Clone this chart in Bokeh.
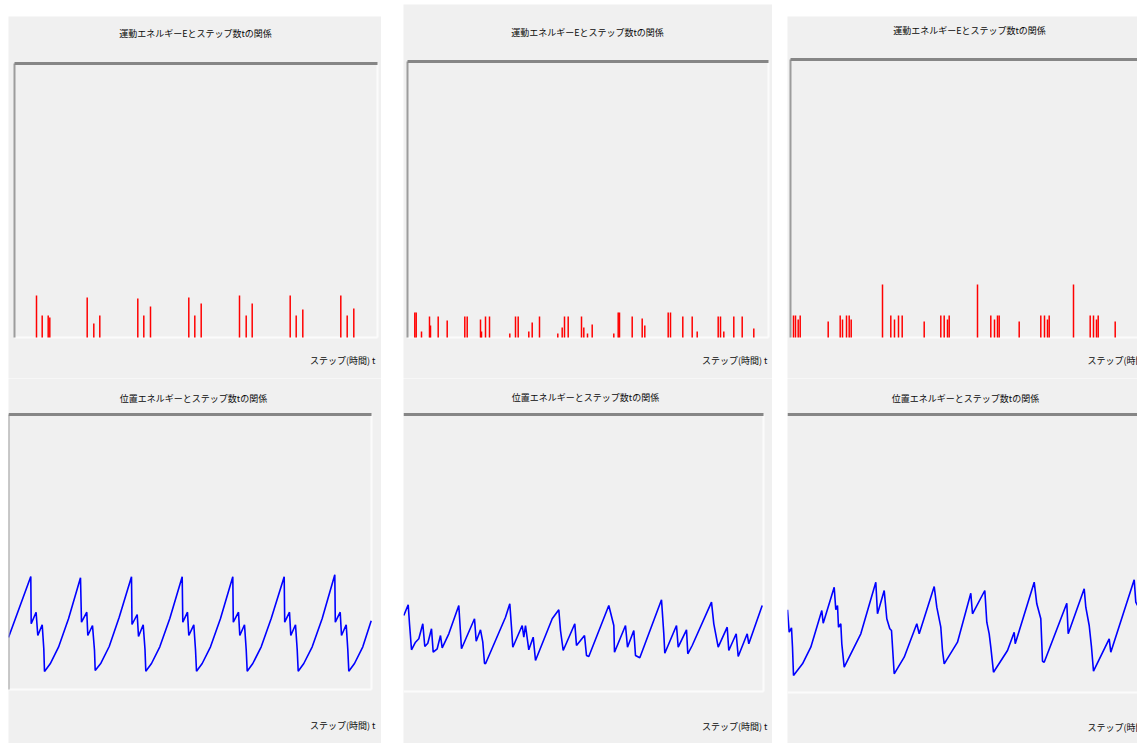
from bokeh.plotting import figure
from bokeh.layouts import row, column
from bokeh.models import Range1d, Label
from bokeh.embed import file_html
from bokeh.resources import INLINE

TITLE_KE = "運動エネルギーEとステップ数tの関係"
TITLE_PE = "位置エネルギーとステップ数tの関係"
X_LABEL = "ステップ(時間) t"

# ---- run A: regular bounce ----
ke_a_t = [22.0, 27.7, 33.7, 35.3, 72.7, 79.3, 85.3, 123.3, 129.3, 136.0,
          174.3, 180.3, 186.7, 225.0, 231.7, 237.7, 275.7, 281.7, 288.3,
          326.3, 332.7, 339.3]
ke_a_e = [42, 22, 22, 20, 40, 14, 22, 39, 22, 31,
          40, 22, 34, 42, 22, 34, 42, 22, 28,
          42, 22, 29]

pe_a_t = [0.0, 22.3,
          22.7, 27.6, 29.3, 33.7, 35.3, 36.0, 41.7, 50.0, 60.0, 72.0,
          73.0, 78.3, 79.3, 84.0, 86.0, 86.7, 92.4, 100.7, 110.7, 123.0,
          123.5, 128.7, 130.0, 134.7, 136.5, 137.3, 143.0, 151.3, 161.3, 173.7,
          174.3, 179.0, 180.3, 185.3, 187.0, 188.0, 193.7, 202.0, 212.0, 224.3,
          224.8, 230.0, 231.3, 236.0, 237.7, 238.7, 244.3, 252.7, 262.7, 275.7,
          276.2, 281.0, 282.3, 287.0, 288.7, 289.7, 295.3, 303.7, 313.7, 326.3,
          326.8, 331.7, 333.0, 337.7, 339.3, 340.3, 346.0, 354.3, 362.7]
pe_a_e = [52.0, 113.0,
          65.7, 77.3, 54.0, 64.7, 40.7, 18.0, 25.7, 42.3, 70.7, 111.7,
          67.3, 77.3, 54.0, 64.0, 39.0, 19.0, 26.3, 43.0, 72.3, 112.7,
          65.0, 75.0, 53.0, 64.7, 40.0, 18.3, 26.0, 42.7, 71.0, 112.7,
          67.3, 77.3, 54.0, 64.7, 40.0, 18.3, 26.0, 42.7, 71.0, 112.7,
          67.3, 77.3, 54.0, 64.7, 40.0, 18.3, 26.0, 42.7, 71.0, 112.7,
          67.3, 77.3, 54.0, 64.7, 40.0, 18.3, 26.0, 42.7, 71.0, 114.7,
          67.3, 77.3, 54.0, 64.7, 40.0, 18.3, 26.0, 42.7, 68.7]

# ---- run B: frequent small collisions ----
ke_b_t = [7.3, 8.7, 14.0, 22.0, 23.0, 30.7, 39.7, 57.3, 59.7, 73.0, 74.0,
          78.0, 82.0, 102.3, 108.0, 110.7, 121.3, 124.7, 132.0, 150.3, 154.7,
          157.0, 160.7, 174.0, 176.3, 180.0, 184.7, 206.3, 210.7, 212.0, 224.7,
          234.7, 237.3, 260.7, 263.0, 275.3, 284.7, 289.7, 310.7, 313.0, 316.3,
          326.3, 334.7, 346.3]
ke_b_e = [25, 25, 6, 21, 12, 21, 17, 21, 21, 18, 6,
          21, 21, 4, 21, 21, 6, 15, 21, 4, 10,
          21, 21, 21, 10, 4, 13, 4, 25, 25, 21,
          19, 12, 25, 25, 21, 21, 6, 21, 21, 6,
          21, 21, 9]

pe_b_t = [0.3, 4.7, 6.0, 8.0, 12.0, 15.3, 19.3, 21.3, 24.3, 28.0, 29.7, 33.7,
          37.0, 38.7, 45.3, 55.3, 58.0, 71.0, 72.7, 77.0, 79.3, 81.0, 82.0,
          102.0, 106.3, 108.0, 109.3, 118.7, 120.3, 122.0, 125.3, 129.7, 132.0,
          148.7, 155.3, 157.0, 159.7, 171.3, 173.0, 181.0, 183.0, 185.3, 205.3,
          210.3, 211.0, 222.0, 224.0, 230.3, 232.0, 236.3, 258.0, 260.3, 261.3,
          273.0, 274.7, 283.0, 284.3, 288.7, 308.0, 310.3, 314.7, 323.7, 325.3,
          332.7, 334.7, 343.7, 345.3, 358.7]
pe_b_e = [76.0, 86.7, 67.7, 41.7, 49.3, 52.7, 67.7, 45.0, 48.3, 62.7, 39.3, 42.7,
          56.0, 43.7, 57.7, 86.0, 42.7, 72.7, 50.3, 61.7, 49.3, 28.3, 27.7,
          74.3, 87.7, 64.3, 44.3, 66.0, 54.3, 66.0, 41.7, 54.3, 31.0,
          72.7, 81.7, 61.0, 41.0, 67.7, 46.0, 56.0, 36.0, 35.0, 86.0,
          66.0, 39.3, 66.0, 44.3, 61.0, 36.0, 33.7, 91.7, 57.7, 38.3,
          66.0, 44.3, 61.7, 37.7, 46.0, 89.3, 67.7, 44.3, 64.3, 41.0,
          57.7, 35.0, 57.7, 47.7, 86.0]

# ---- run C: clustered collisions ----
ke_c_t = [3.0, 5.0, 7.7, 9.7, 37.7, 49.7, 52.0, 56.0, 58.7, 60.7, 92.0,
          100.3, 104.0, 108.0, 111.7, 133.7, 150.3, 153.7, 157.0, 158.7,
          187.0, 200.3, 204.0, 207.0, 208.7, 228.7, 250.3, 254.0, 257.0,
          258.7, 283.0, 299.7, 303.0, 306.0, 307.7, 324.7]
ke_c_e = [22, 22, 18, 22, 16, 22, 18, 22, 22, 18, 53,
          22, 18, 22, 22, 16, 22, 22, 18, 22,
          53, 22, 18, 22, 22, 16, 22, 22, 18,
          22, 53, 22, 22, 18, 22, 16]

pe_c_t = [0.0, 1.7, 4.0, 5.0, 6.0, 15.0, 23.3, 34.3, 35.7, 46.7, 48.3, 50.0,
          51.0, 53.3, 54.3, 56.7, 73.3, 88.3, 90.0, 96.7, 99.3, 102.3, 104.0,
          106.7, 116.7, 129.3, 131.7, 146.7, 149.3, 153.3, 155.0, 156.7, 170.0,
          183.3, 185.0, 197.3, 199.3, 201.7, 203.3, 206.0, 220.0, 226.7, 227.7,
          246.7, 249.3, 253.3, 255.0, 256.7, 279.3, 280.7, 296.7, 298.3, 301.7,
          304.0, 306.0, 321.7, 323.3, 346.7, 348.3, 350.0]
pe_c_e = [82.7, 60.3, 64.7, 45.3, 17.0, 28.7, 45.3, 82.0, 69.3, 105.3, 82.7, 87.0,
          65.3, 68.7, 48.7, 25.3, 58.7, 110.3, 78.7, 102.0, 73.7, 63.7, 62.0,
          18.7, 35.3, 68.7, 58.7, 106.0, 85.3, 65.3, 42.0, 28.7, 50.3,
          99.3, 78.7, 102.0, 70.3, 58.7, 45.3, 20.3, 42.0, 60.3, 48.7,
          110.3, 88.7, 73.7, 31.3, 30.3, 89.3, 58.7, 103.7, 85.3, 67.0,
          45.3, 21.3, 53.7, 40.3, 112.7, 90.3, 87.0]

BG = "#f0f0f0"
FONT = "Noto Sans CJK JP"


def panel(w, h, box, title, title_xy, label_xy, label_align, edges, margin):
    """One window-like panel; the plot box sits inside the canvas, with
    `box` = (left, right, top, bottom) gaps between canvas edge and box."""
    left, right, top, bottom = box
    fw, fh = w - left - right, h - top - bottom
    p = figure(width=w, height=h,
               x_range=Range1d(-left, fw + right), y_range=Range1d(-bottom, fh + top),
               x_axis_type=None, y_axis_type=None, toolbar_location=None,
               output_backend="svg", background_fill_color=BG,
               border_fill_color=BG, outline_line_color=None, min_border=0)
    p.title.visible = False
    p.grid.visible = False
    p.margin = margin
    # light (lower/right) edges of the sunken box
    if "B" in edges:
        p.segment(x0=[0], y0=[0], x1=[fw], y1=[0], line_color="#fbfbfb", line_width=2)
    if "R" in edges:
        p.segment(x0=[fw], y0=[0], x1=[fw], y1=[fh], line_color="#fbfbfb", line_width=2)
    p.add_layout(Label(x=title_xy[0], y=fh + title_xy[1], text=title,
                       text_align="center", text_baseline="middle",
                       text_font=FONT, text_font_size="9px", text_color="#0a0a0a"))
    p.add_layout(Label(x=label_xy[0], y=label_xy[1], text=X_LABEL,
                       text_align=label_align, text_baseline="middle",
                       text_font=FONT, text_font_size="9px", text_color="#0a0a0a"))
    return p, fw, fh, edges


def shade_edges(spec):
    # dark (upper/left) edges of the sunken box
    p, fw, fh, edges = spec
    if "L" in edges:
        p.segment(x0=[0], y0=[0], x1=[0], y1=[fh], line_color="#9c9c9c", line_width=2)
    if "T" in edges:
        p.segment(x0=[0], y0=[fh], x1=[fw], y1=[fh], line_color="#868686", line_width=3)
    return p


def spikes(spec, t, e):
    spec[0].segment(x0=t, y0=[0] * len(t), x1=t, y1=e, line_color="#ff0000", line_width=1.5)
    return shade_edges(spec)


def curve(spec, t, e):
    spec[0].line(t, e, line_color="#0000ff", line_width=1.6)
    return shade_edges(spec)


p1 = spikes(panel(373, 362, (6, 4, 47, 41), TITLE_KE, (181, 30), (361, -23), "right",
                  "LTRB", (16, 0, 0, 8)), ke_a_t, ke_a_e)
p2 = curve(panel(373, 365, (0, 10, 36, 54), TITLE_PE, (185, 16), (367, -36), "right",
                 "LTRB", (0, 0, 0, 8)), pe_a_t, pe_a_e)

p3 = spikes(panel(369, 374, (4, 4, 57, 41), TITLE_KE, (180, 29), (360, -23), "right",
                  "LTRB", (4, 0, 0, 22)), ke_b_t, ke_b_e)
p4 = curve(panel(369, 365, (0, 9, 36, 52), TITLE_PE, (182, 17), (364, -35), "right",
                 "TRB", (0, 0, 0, 22)), pe_b_t, pe_b_e)

p5 = spikes(panel(350, 362, (3, 0, 43, 41), TITLE_KE, (179, 29), (297, -23), "left",
                  "LTB", (16, 0, 0, 15)), ke_c_t, ke_c_e)
p6 = curve(panel(350, 365, (0, 0, 36, 51), TITLE_PE, (178, 16), (300, -35), "left",
                 "TB", (0, 0, 0, 15)), pe_c_t, pe_c_e)

layout = row(column(p1, p2, spacing=0), column(p3, p4, spacing=0),
             column(p5, p6, spacing=0), spacing=0)

open("out.html", "w").write(file_html(layout, INLINE))
